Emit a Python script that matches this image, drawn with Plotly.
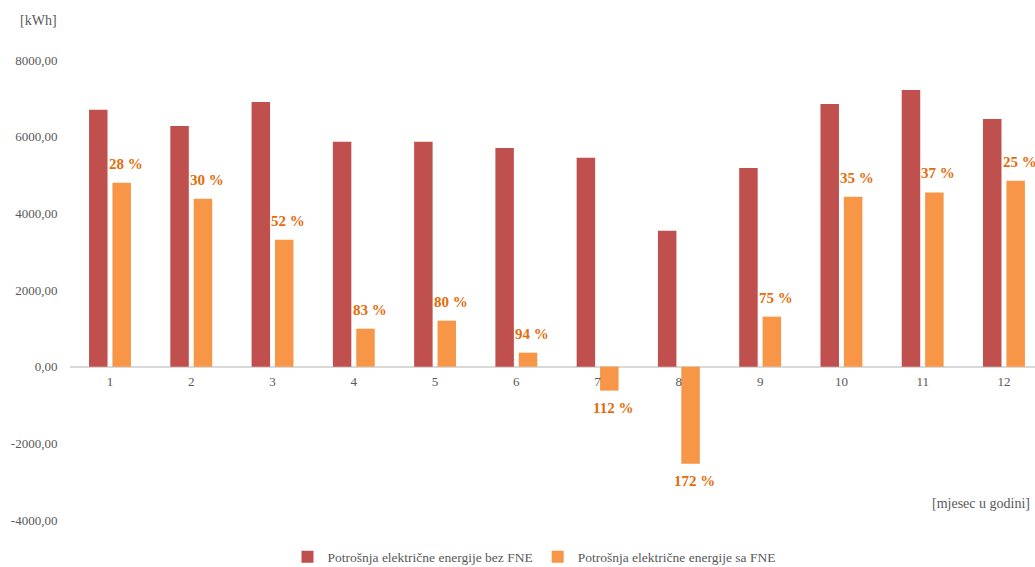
import plotly.graph_objects as go

# Monthly electricity consumption [kWh]
months = [1, 2, 3, 4, 5, 6, 7, 8, 9, 10, 11, 12]
bez_fne = [6700, 6280, 6905, 5865, 5865, 5705, 5450, 3545, 5185, 6855, 7215, 6460]
sa_fne = [4795, 4380, 3310, 990, 1200, 365, -625, -2530, 1305, 4430, 4545, 4850]
ustede = ["28 %", "30 %", "52 %", "83 %", "80 %", "94 %", "112 %", "172 %", "75 %", "35 %", "37 %", "25 %"]

y_ticks = [-4000, -2000, 0, 2000, 4000, 6000, 8000]
y_tick_text = ["-4000,00", "-2000,00", "0,00", "2000,00", "4000,00", "6000,00", "8000,00"]

RED = "#C0504D"
ORANGE = "#F79646"
LABEL = "#E36C0A"
GREY = "#595959"
FONT = "Liberation Serif, Times New Roman, serif"

W, H = 1035, 567
ml, mr, mt, mb = 70, 0, 60, 47
pw, ph = W - ml - mr, H - mt - mb


def px_x(x):
    return (x - ml) / pw


def px_y(y):
    return 1 - (y - mt) / ph


fig = go.Figure()
fig.add_trace(go.Bar(x=months, y=bez_fne, name="Potrošnja električne energije bez FNE",
                     marker=dict(color=RED, line=dict(width=0))))
fig.add_trace(go.Bar(x=months, y=sa_fne, name="Potrošnja električne energije sa FNE",
                     marker=dict(color=ORANGE, line=dict(width=0))))

# Percentage labels above/below the "sa FNE" bars
for m, v, t in zip(months, sa_fne, ustede):
    fig.add_annotation(x=m + 0.144, y=v, xref="x", yref="y", text=t, showarrow=False,
                       yanchor="bottom" if v >= 0 else "top",
                       yshift=9 if v >= 0 else -7, xshift=4,
                       font=dict(family=FONT, size=15, color=LABEL, weight="bold"))

# Axis titles
fig.add_annotation(x=px_x(38), y=px_y(20), xref="paper", yref="paper", text="[kWh]",
                   showarrow=False, xanchor="center", yanchor="middle",
                   font=dict(family=FONT, size=14, color=GREY))
fig.add_annotation(x=px_x(1032), y=px_y(503), xref="paper", yref="paper",
                   text="[mjesec u godini]", showarrow=False, xanchor="right", yanchor="middle",
                   font=dict(family=FONT, size=14, color=GREY))

fig.update_layout(
    width=W, height=H,
    margin=dict(l=ml, r=mr, t=mt, b=mb, autoexpand=False),
    paper_bgcolor="white", plot_bgcolor="white",
    barmode="group", bargap=0.424, bargroupgap=0.21,
    font=dict(family=FONT, size=13, color=GREY),
    showlegend=True,
    legend=dict(orientation="h", x=px_x(534), xanchor="center", y=px_y(557), yanchor="middle",
                font=dict(family=FONT, size=13.5, color=GREY), itemwidth=30,
                traceorder="normal"),
    xaxis=dict(range=[0.508, 12.382], tickmode="array", tickvals=months,
               ticktext=[str(m) for m in months], showgrid=False, showline=False,
               zeroline=False, anchor="free", position=1 / 3,
               ticks="outside", ticklen=3, tickcolor="rgba(0,0,0,0)",
               tickfont=dict(family=FONT, size=13, color=GREY)),
    yaxis=dict(range=[-4000, 8000], tickmode="array", tickvals=y_ticks, ticktext=y_tick_text,
               showgrid=False, showline=False, zeroline=True, zerolinecolor="#D9D9D9",
               zerolinewidth=2, ticks="outside", ticklen=9, tickcolor="rgba(0,0,0,0)",
               tickfont=dict(family=FONT, size=13, color=GREY)),
)

fig.write_html("out.html")
